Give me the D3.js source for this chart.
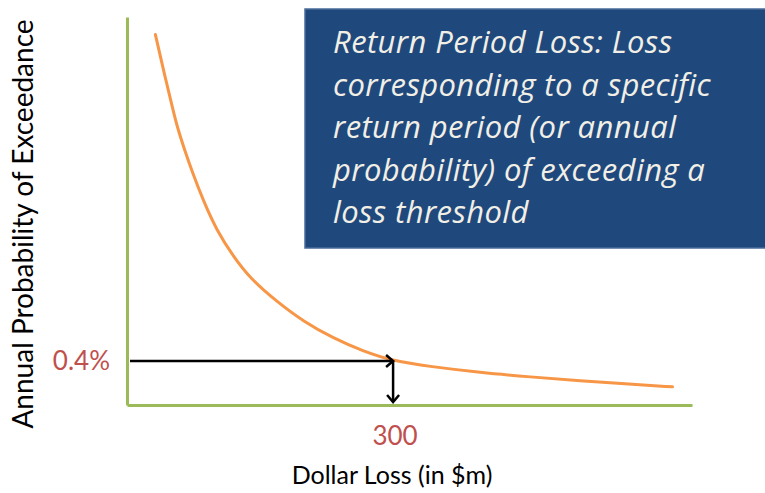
<!DOCTYPE html>
<html>
<head>
<meta charset="utf-8">
<script src="https://cdn.jsdelivr.net/npm/d3@7"></script>
<style>
  body { margin: 0; background: #fff; }
  svg { display: block; }
</style>
</head>
<body>
<svg width="765" height="493"></svg>
<script>
// кривая превышения: убыток ($m) и годовая вероятность (%)
const lossValues = [32, 41, 52, 57, 65, 74, 86, 101, 120, 139, 169, 199, 232, 266, 300, 342, 398, 455, 511, 567, 615];
const probValues = [3.37, 3.05, 2.68, 2.52, 2.32, 2.11, 1.86, 1.59, 1.35, 1.15, 0.94, 0.76, 0.61, 0.49, 0.40, 0.35, 0.295, 0.255, 0.22, 0.19, 0.165];

// отмеченная точка
const markLoss = 300;
const markProb = 0.4;
const markLossLabel = "300";
const markProbLabel = "0.4%";

const xTitle = "Dollar Loss (in $m)";
const yTitle = "Annual Probability of Exceedance";
const noteLines = [
  "Return Period Loss: Loss",
  "corresponding to a specific",
  "return period (or annual",
  "probability) of exceeding a",
  "loss threshold"
];

const svg = d3.select("svg");
const font = "Lato, 'Open Sans', sans-serif";
const noteFont = "'Open Sans', sans-serif";

let area = { left: 127, right: 692, top: 17, bottom: 405 };

let scX = d3.scaleLinear().domain([0, 637]).range([area.left, area.right]);
let scY = d3.scaleLinear().domain([0, 3.53]).range([area.bottom, area.top]);

// оси - только зелёные линии без делений
svg.append("g")
    .attr("transform", `translate(0, ${area.bottom})`)
    .call(d3.axisBottom(scX).tickValues([]).tickSizeOuter(0))
    .select(".domain")
    .attr("stroke", "#9bbb59")
    .attr("stroke-width", 3);

svg.append("g")
    .attr("transform", `translate(${area.left}, 0)`)
    .call(d3.axisLeft(scY).tickValues([]).tickSizeOuter(0))
    .select(".domain")
    .attr("stroke", "#9bbb59")
    .attr("stroke-width", 3);

// кривая
let points = lossValues.map((d, i) => [d, probValues[i]]);
let line = d3.line()
    .x(d => scX(d[0]))
    .y(d => scY(d[1]))
    .curve(d3.curveBasis);

svg.append("path")
    .datum(points)
    .attr("d", line)
    .attr("fill", "none")
    .attr("stroke", "#f79646")
    .attr("stroke-width", 3)
    .attr("stroke-linecap", "round");

// стрелки
svg.append("defs").append("marker")
    .attr("id", "arr")
    .attr("viewBox", "-10 -8 12 16")
    .attr("refX", 0)
    .attr("refY", 0)
    .attr("markerWidth", 12)
    .attr("markerHeight", 16)
    .attr("markerUnits", "userSpaceOnUse")
    .attr("orient", "auto")
    .append("path")
    .attr("d", "M-7,-6L0,0L-7,6")
    .attr("fill", "none")
    .attr("stroke", "#000")
    .attr("stroke-width", 2.5)
    .attr("stroke-linejoin", "miter");

svg.append("line")
    .attr("x1", area.left + 3)
    .attr("y1", scY(markProb))
    .attr("x2", scX(markLoss))
    .attr("y2", scY(markProb))
    .attr("stroke", "#000")
    .attr("stroke-width", 2.5)
    .attr("marker-end", "url(#arr)");

svg.append("line")
    .attr("x1", scX(markLoss))
    .attr("y1", scY(markProb))
    .attr("x2", scX(markLoss))
    .attr("y2", area.bottom - 3)
    .attr("stroke", "#000")
    .attr("stroke-width", 2.5)
    .attr("marker-end", "url(#arr)");

// подписи точки
svg.append("text")
    .attr("x", 110)
    .attr("y", scY(markProb))
    .attr("dy", "0.35em")
    .attr("text-anchor", "end")
    .style("font-family", font)
    .style("font-size", "26px")
    .style("fill", "#c0504d")
    .text(markProbLabel);

svg.append("text")
    .attr("x", scX(markLoss) + 2)
    .attr("y", 445)
    .attr("text-anchor", "middle")
    .style("font-family", font)
    .style("font-size", "26px")
    .style("fill", "#c0504d")
    .text(markLossLabel);

// заголовки осей
svg.append("text")
    .attr("x", 392)
    .attr("y", 484)
    .attr("text-anchor", "middle")
    .style("font-family", font)
    .style("font-size", "25px")
    .style("fill", "#000")
    .text(xTitle);

svg.append("text")
    .attr("transform", "translate(33, 224) rotate(-90)")
    .attr("text-anchor", "middle")
    .style("font-family", font)
    .style("font-size", "28px")
    .style("fill", "#000")
    .text(yTitle);

// синий блок с пояснением
svg.append("rect")
    .attr("x", 305)
    .attr("y", 9)
    .attr("width", 470)
    .attr("height", 239)
    .attr("fill", "#1f497d")
    .attr("stroke", "#4a6c9b")
    .attr("stroke-width", 1.5);

svg.append("g")
    .selectAll("text")
    .data(noteLines)
    .enter()
    .append("text")
    .attr("x", 333)
    .attr("y", (d, i) => 53 + i * 42.5)
    .style("font-family", noteFont)
    .style("font-style", "italic")
    .style("font-size", "31px")
    .style("letter-spacing", "0.4px")
    .style("fill", "#f2efe6")
    .text(d => d);
</script>
</body>
</html>
